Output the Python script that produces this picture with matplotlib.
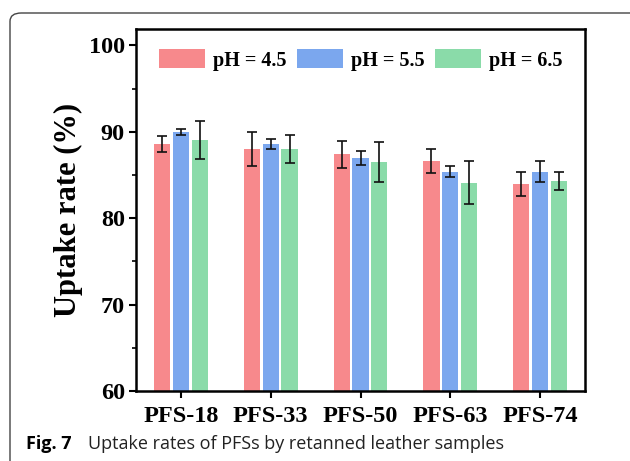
import numpy as np
import matplotlib
matplotlib.use("Agg")
import matplotlib.pyplot as plt
from matplotlib.patches import FancyBboxPatch
from matplotlib.ticker import MultipleLocator

samples = ["PFS-18", "PFS-33", "PFS-50", "PFS-63", "PFS-74"]
series = ["pH = 4.5", "pH = 5.5", "pH = 6.5"]
ph45 = [88.6, 88.0, 87.4, 86.6, 84.0]
ph55 = [90.0, 88.6, 87.0, 85.4, 85.4]
ph65 = [89.0, 88.0, 86.5, 84.1, 84.3]
err45 = [0.9, 1.95, 1.55, 1.4, 1.4]
err55 = [0.33, 0.55, 0.8, 0.65, 1.25]
err65 = [2.2, 1.65, 2.35, 2.5, 1.0]
colors = ["#f7898c", "#7ba7ee", "#8adba9"]

plt.rcParams["font.family"] = ["Liberation Serif", "DejaVu Serif"]
fig = plt.figure(figsize=(6.3, 4.61), dpi=100)

# rounded figure frame from the journal page
frame = FancyBboxPatch((10 / 630, -0.2), 1.2, (461 - 13) / 461 + 0.2,
                       boxstyle="round,pad=0,rounding_size=0.018",
                       transform=fig.transFigure, fill=False,
                       edgecolor="#444444", lw=1.0)
fig.add_artist(frame)

ax = fig.add_axes([136 / 630, 1 - 391 / 461, (585 - 136) / 630, (391 - 29) / 461])
x = np.arange(len(samples))
pitch, w = 0.21, 0.18
for i, (vals, errs) in enumerate(zip([ph45, ph55, ph65], [err45, err55, err65])):
    ax.bar(x + (i - 1) * pitch, [v - 60 for v in vals], w, bottom=60,
           color=colors[i], label=series[i], zorder=2)
    ax.errorbar(x + (i - 1) * pitch, vals, yerr=errs, fmt="none",
                ecolor="#111111", elinewidth=1.2, capsize=3.5, capthick=1.2, zorder=3)

ax.set_xlim(-0.5, 4.5)
ax.set_ylim(60, 101.9)
ax.set_yticks([60, 70, 80, 90, 100])
ax.yaxis.set_minor_locator(MultipleLocator(5))
ax.set_xticks(x)
ax.set_xticklabels(samples)
ax.tick_params(axis="both", which="major", direction="out", length=5, width=1.5,
               labelsize=17.5, pad=3)
ax.tick_params(axis="y", which="minor", direction="out", length=3, width=1.2)
ax.tick_params(axis="x", pad=6)
for lab in ax.get_xticklabels() + ax.get_yticklabels():
    lab.set_fontweight("bold")
for s in ax.spines.values():
    s.set_linewidth(1.8)
ax.set_ylabel("Uptake rate (%)", fontsize=22, fontweight="bold", labelpad=4)

ax.legend(loc="upper center", ncol=3, frameon=False, bbox_to_anchor=(0.5, 1.0),
          prop={"weight": "bold", "size": 14.5}, handlelength=2.3, handleheight=1.1,
          handletextpad=0.4, columnspacing=0.5, borderaxespad=0.6)

fig.text(26 / 630, 1 - 444 / 461, "Fig. 7", fontsize=13, fontweight="bold",
         family="Open Sans", va="center", ha="left")
fig.text(88 / 630, 1 - 444 / 461, "Uptake rates of PFSs by retanned leather samples",
         fontsize=13, family="Open Sans", va="center", ha="left", color="#222222")

fig.savefig("out.png", dpi=100)
